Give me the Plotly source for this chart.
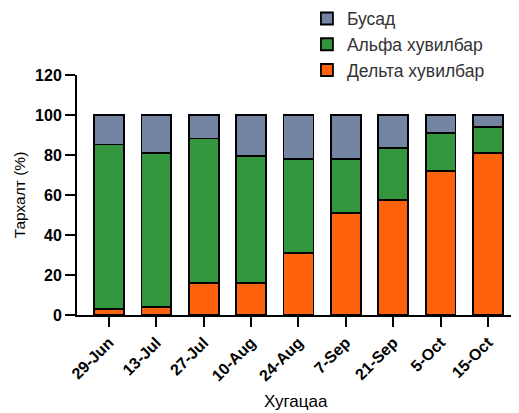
import plotly.graph_objects as go

dates = ["29-Jun", "13-Jul", "27-Jul", "10-Aug", "24-Aug", "7-Sep", "21-Sep", "5-Oct", "15-Oct"]
delta = [3, 4, 16, 16, 31, 51, 57.5, 72, 81]
alpha = [82.3, 77, 72.3, 63.7, 47, 27, 26.2, 19.2, 12.9]
busad = [14.7, 19, 11.7, 20.3, 22, 22, 16.3, 8.8, 6.1]

names = ["Дельта хувилбар", "Альфа хувилбар", "Бусад"]
colors = ["#FF620D", "#33963F", "#7385A3"]
series = [delta, alpha, busad]

fig = go.Figure()
for nm, col, vals in zip(names, colors, series):
    fig.add_trace(go.Bar(
        x=dates, y=vals, name=nm,
        marker=dict(color=col, line=dict(color="black", width=1.8)),
        width=0.63,
    ))

font_fam = "Liberation Sans, Arial, sans-serif"
fig.update_layout(
    barmode="stack",
    width=511, height=405,
    margin=dict(l=69, r=4, t=67, b=98, autoexpand=False),
    plot_bgcolor="white", paper_bgcolor="white",
    font=dict(family=font_fam, color="black", size=15),
    legend=dict(
        traceorder="reversed",
        x=0.525, y=1.31, xanchor="left", yanchor="top",
        font=dict(size=17.5, color="#333333"),
        itemwidth=30, tracegroupgap=0,
        bgcolor="rgba(0,0,0,0)",
    ),
    showlegend=True,
    annotations=[dict(
        text="Хугацаа", xref="paper", yref="paper",
        x=0.5, y=-0.362, xanchor="center", yanchor="middle",
        showarrow=False, font=dict(size=17, color="black"),
    )],
)
fig.update_xaxes(
    automargin=False,
    range=[-0.675, 8.57],
    showline=True, linecolor="black", linewidth=2,
    ticks="outside", ticklen=10, tickwidth=2, tickcolor="black",
    tickangle=-45,
    tickfont=dict(size=16, weight="bold", family=font_fam),
    showgrid=False, zeroline=False,
)
fig.update_yaxes(
    automargin=False,
    range=[0, 120], dtick=20,
    showline=True, linecolor="black", linewidth=2,
    ticks="outside", ticklen=10, tickwidth=2, tickcolor="black",
    tickfont=dict(size=16, weight="bold", family=font_fam),
    title=dict(text="Тархалт (%)", font=dict(size=15.5), standoff=6),
    showgrid=False, zeroline=False,
)

fig.write_html("out.html")
